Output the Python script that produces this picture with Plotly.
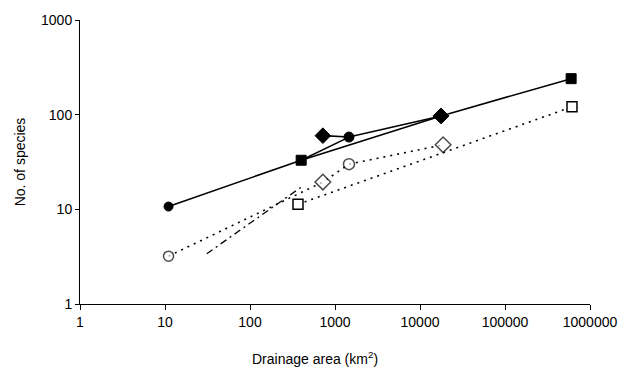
import plotly.graph_objects as go

# --- data ---
x_tick_vals = [1, 10, 100, 1000, 10000, 100000, 1000000]
x_tick_text = ["1", "10", "100", "1000", "10000", "100000", "1000000"]
y_tick_vals = [1, 10, 100, 1000]
y_tick_text = ["1", "10", "100", "1000"]

# filled symbols, main solid line
main_area = [11, 400, 17700, 600000]
main_species = [10.7, 33, 97, 240]
main_symbols = ["circle", "square", "diamond", "square"]

# filled symbols, second solid line
second_area = [720, 1460, 17700]
second_species = [60, 58, 97]
second_symbols = ["diamond", "circle", "diamond"]

# connecting solid segment (no new markers)
link_area = [400, 1460]
link_species = [33, 58]

# open symbols, dotted line
open_area = [11, 720, 1460, 18700]
open_species = [3.2, 19.4, 30, 48]
open_symbols = ["circle", "diamond", "circle", "diamond"]

# open squares, dotted line
osq_area = [367, 614000]
osq_species = [11.3, 121]

# dash-dot line (no markers)
dd_area = [31, 420]
dd_species = [3.4, 17.7]

fig = go.Figure()

fig.add_trace(go.Scatter(x=link_area, y=link_species, mode="lines",
                         line=dict(color="black", width=1.5), showlegend=False))
fig.add_trace(go.Scatter(x=dd_area, y=dd_species, mode="lines",
                         line=dict(color="black", width=1.3, dash="7px,4px,2px,4px"),
                         showlegend=False))
fig.add_trace(go.Scatter(x=osq_area, y=osq_species, mode="lines+markers",
                         line=dict(color="black", width=1.6, dash="2px,5px"),
                         marker=dict(symbol="square", size=10, color="white",
                                     line=dict(width=1.5, color="black")),
                         showlegend=False))
fig.add_trace(go.Scatter(x=open_area, y=open_species, mode="lines+markers",
                         line=dict(color="black", width=1.6, dash="2px,5px"),
                         marker=dict(symbol=open_symbols, size=[10, 12, 11, 12],
                                     color="white",
                                     line=dict(width=1.5, color="black")),
                         showlegend=False))
fig.add_trace(go.Scatter(x=main_area, y=main_species, mode="lines+markers",
                         line=dict(color="black", width=1.6),
                         marker=dict(symbol=main_symbols, size=[9, 10, 12, 10],
                                     color="black", opacity=1,
                                     line=dict(width=1, color="black")),
                         showlegend=False))
fig.add_trace(go.Scatter(x=second_area, y=second_species, mode="lines+markers",
                         line=dict(color="black", width=1.6),
                         marker=dict(symbol=second_symbols, size=[12, 10, 12],
                                     color="black", opacity=1,
                                     line=dict(width=1, color="black")),
                         showlegend=False))

font_family = "Liberation Sans, Arial, sans-serif"

fig.update_xaxes(type="log", range=[0, 6], tickvals=x_tick_vals, ticktext=x_tick_text,
                 showgrid=False, zeroline=False, showline=True, linecolor="black",
                 linewidth=1, ticks="outside", ticklen=5, tickcolor="black",
                 tickfont=dict(family=font_family, size=14, color="black"))
fig.update_yaxes(type="log", range=[0, 3], tickvals=y_tick_vals, ticktext=y_tick_text,
                 showgrid=False, zeroline=False, showline=True, linecolor="black",
                 linewidth=1, ticks="outside", ticklen=4, tickcolor="black",
                 tickfont=dict(family=font_family, size=14, color="black"),
                 title=dict(text="No. of species", standoff=12,
                            font=dict(family=font_family, size=14, color="black")))

fig.add_annotation(text="Drainage area (km<sup>2</sup>)", xref="paper", yref="paper",
                   x=0.46, y=-0.19, xanchor="center", yanchor="middle", showarrow=False,
                   font=dict(family=font_family, size=14, color="black"))

fig.update_layout(width=637, height=374, plot_bgcolor="white", paper_bgcolor="white",
                  margin=dict(l=80, r=47, t=13, b=70))

fig.write_html("out.html")
